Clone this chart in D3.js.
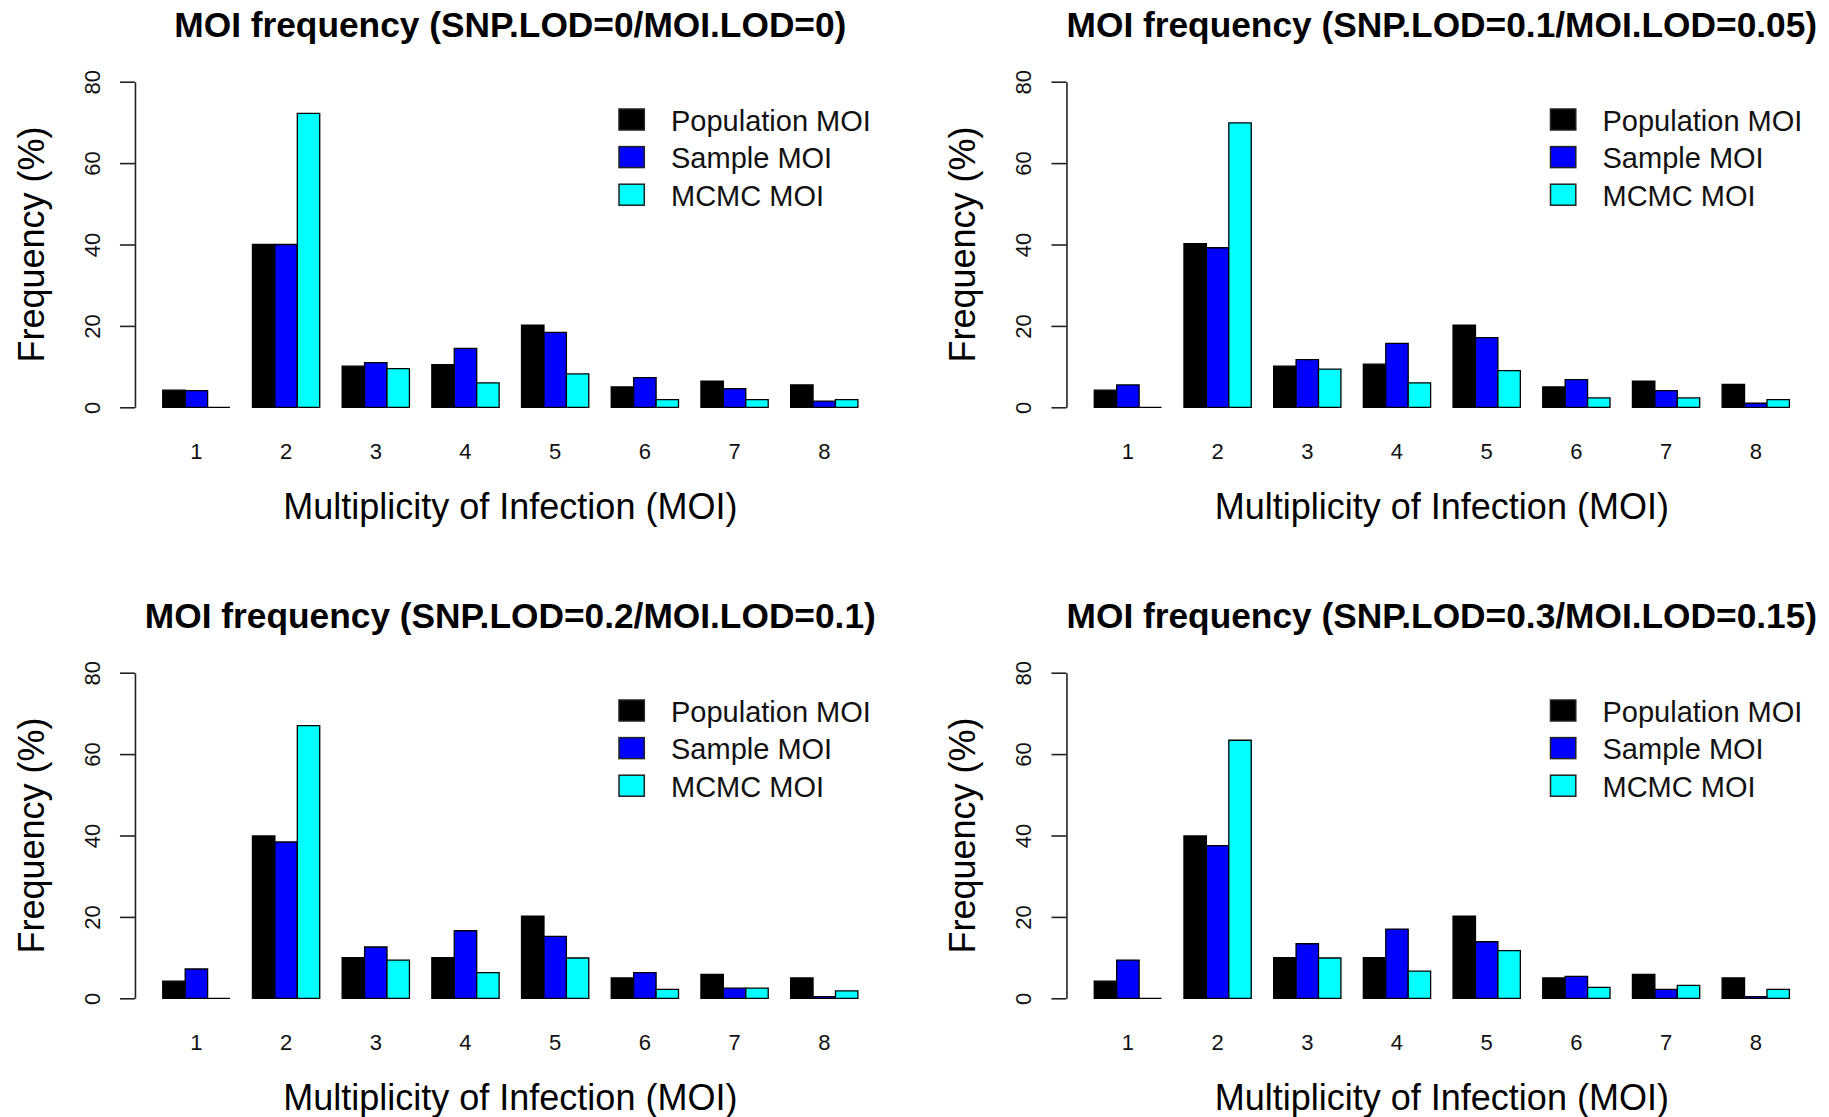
<!DOCTYPE html>
<html>
<head>
<meta charset="utf-8">
<script src="https://cdn.jsdelivr.net/npm/d3@7/dist/d3.min.js"></script>
<style>
  html, body { margin: 0; padding: 0; background: #fff; }
  svg { display: block; font-family: "Liberation Sans", Arial, sans-serif; }
</style>
</head>
<body>
<svg id="chart" width="1829" height="1117"></svg>
<script>
// MOI categories (x axis) and the three series shown in every panel
const moiLevels = ["1", "2", "3", "4", "5", "6", "7", "8"];
const seriesNames = ["Population MOI", "Sample MOI", "MCMC MOI"];
const seriesColors = ["#000000", "#0000ff", "#00ffff"];
const yTicks = [0, 20, 40, 60, 80];

const panelTitles = [
  "MOI frequency (SNP.LOD=0/MOI.LOD=0)",
  "MOI frequency (SNP.LOD=0.1/MOI.LOD=0.05)",
  "MOI frequency (SNP.LOD=0.2/MOI.LOD=0.1)",
  "MOI frequency (SNP.LOD=0.3/MOI.LOD=0.15)"
];

// Frequencies (%) per MOI level, one set of arrays per LOD threshold
const popLod0 = [4.2, 40.0, 10.1, 10.5, 20.2, 5.0, 6.4, 5.5];
const sampleLod0 = [4.1, 40.0, 11.0, 14.5, 18.4, 7.3, 4.6, 1.5];
const mcmcLod0 = [0, 72.2, 9.5, 6.0, 8.2, 1.9, 1.9, 1.9];

const popLod1 = [4.2, 40.2, 10.1, 10.6, 20.2, 5.0, 6.4, 5.6];
const sampleLod1 = [5.5, 39.2, 11.7, 15.7, 17.1, 6.8, 4.1, 1.0];
const mcmcLod1 = [0, 69.9, 9.4, 6.0, 9.0, 2.3, 2.3, 1.9];

const popLod2 = [4.2, 39.9, 10.0, 10.0, 20.2, 5.0, 5.9, 5.0];
const sampleLod2 = [7.2, 38.4, 12.6, 16.6, 15.2, 6.3, 2.5, 0.4];
const mcmcLod2 = [0, 67.0, 9.4, 6.3, 9.9, 2.2, 2.5, 1.8];

const popLod3 = [4.2, 39.9, 10.0, 10.0, 20.2, 5.0, 5.9, 5.0];
const sampleLod3 = [9.4, 37.5, 13.4, 17.0, 13.9, 5.4, 2.2, 0.4];
const mcmcLod3 = [0, 63.4, 9.9, 6.7, 11.7, 2.7, 3.2, 2.2];

const panelSeries = [
  [popLod0, sampleLod0, mcmcLod0],
  [popLod1, sampleLod1, mcmcLod1],
  [popLod2, sampleLod2, mcmcLod2],
  [popLod3, sampleLod3, mcmcLod3]
];

// ---- layout ----
const svg = d3.select("#chart");
const colStep = 931.5, rowStep = 591;
const plotLeft = 134.96, plotRight = 885.7;
const plotBottom = 407.3, plotTop = 81.7;

panelSeries.forEach((series, p) => {
  const dx = (p % 2) * colStep;
  const dy = Math.floor(p / 2) * rowStep;
  const g = svg.append("g").attr("transform", `translate(${dx},${dy})`);

  const x = d3.scaleBand()
    .domain(moiLevels)
    .range([plotLeft, plotRight])
    .paddingInner(0.25)
    .paddingOuter(0.31);
  const xs = d3.scaleBand()
    .domain(seriesNames)
    .range([0, x.bandwidth()]);
  const y = d3.scaleLinear().domain([0, 80]).range([plotBottom, plotTop]);

  // bars (drawn as paths so zero-height bars still show their outline)
  const rows = [];
  moiLevels.forEach((m, i) => {
    seriesNames.forEach((s, j) => {
      rows.push({ m, s, j, v: series[j][i] });
    });
  });
  g.append("g").selectAll("path")
    .data(rows)
    .join("path")
    .attr("d", d => {
      const x0 = x(d.m) + xs(d.s), x1 = x0 + xs.bandwidth();
      const y0 = y(0), y1 = y(d.v);
      return `M${x0},${y0}V${y1}H${x1}V${y0}Z`;
    })
    .attr("fill", d => seriesColors[d.j])
    .attr("stroke", "#000")
    .attr("stroke-width", 1.3)
    .attr("stroke-linejoin", "miter");

  // x tick labels (no axis line)
  const xAxis = g.append("g")
    .attr("transform", `translate(0,${y(0)})`)
    .call(d3.axisBottom(x).tickSize(0).tickPadding(0));
  xAxis.select(".domain").remove();
  xAxis.selectAll("text")
    .attr("dy", null)
    .attr("y", 52)
    .attr("fill", "#111")
    .style("font-size", "22px")
    .style("font-family", "Liberation Sans, Arial, sans-serif");

  // y axis with labels parallel to the axis
  const yAxis = g.append("g")
    .attr("transform", `translate(${plotLeft},0)`)
    .call(d3.axisLeft(y).tickValues(yTicks).tickSize(15).tickSizeOuter(0));
  yAxis.select(".domain").attr("stroke", "#222").attr("stroke-width", 1.6);
  yAxis.selectAll(".tick line").attr("stroke", "#222").attr("stroke-width", 1.6);
  yAxis.selectAll("text")
    .attr("x", null).attr("dy", null)
    .attr("transform", "translate(-35,0) rotate(-90)")
    .attr("text-anchor", "middle")
    .attr("fill", "#111")
    .style("font-size", "22px")
    .style("font-family", "Liberation Sans, Arial, sans-serif");

  // titles
  const cx = (plotLeft + plotRight) / 2;
  g.append("text")
    .attr("x", cx).attr("y", 36.5)
    .attr("text-anchor", "middle")
    .style("font-size", "35.3px").style("font-weight", "bold")
    .text(panelTitles[p]);

  g.append("text")
    .attr("x", cx).attr("y", 518.5)
    .attr("text-anchor", "middle")
    .style("font-size", "36px")
    .text("Multiplicity of Infection (MOI)");

  g.append("text")
    .attr("transform", `translate(43.5,${y(40)}) rotate(-90)`)
    .attr("text-anchor", "middle")
    .style("font-size", "36px")
    .text("Frequency (%)");

  // legend
  const legend = g.append("g").selectAll("g")
    .data(seriesNames)
    .join("g")
    .attr("transform", (d, i) => `translate(619,${119.5 + i * 37.6})`);
  legend.append("rect")
    .attr("x", 0).attr("y", -10.5)
    .attr("width", 25.3).attr("height", 21)
    .attr("fill", (d, i) => seriesColors[i])
    .attr("stroke", "#222").attr("stroke-width", 1.5);
  legend.append("text")
    .attr("x", 52).attr("y", 11.2)
    .style("font-size", "29px")
    .attr("fill", "#111")
    .text(d => d);
});
</script>
</body>
</html>
